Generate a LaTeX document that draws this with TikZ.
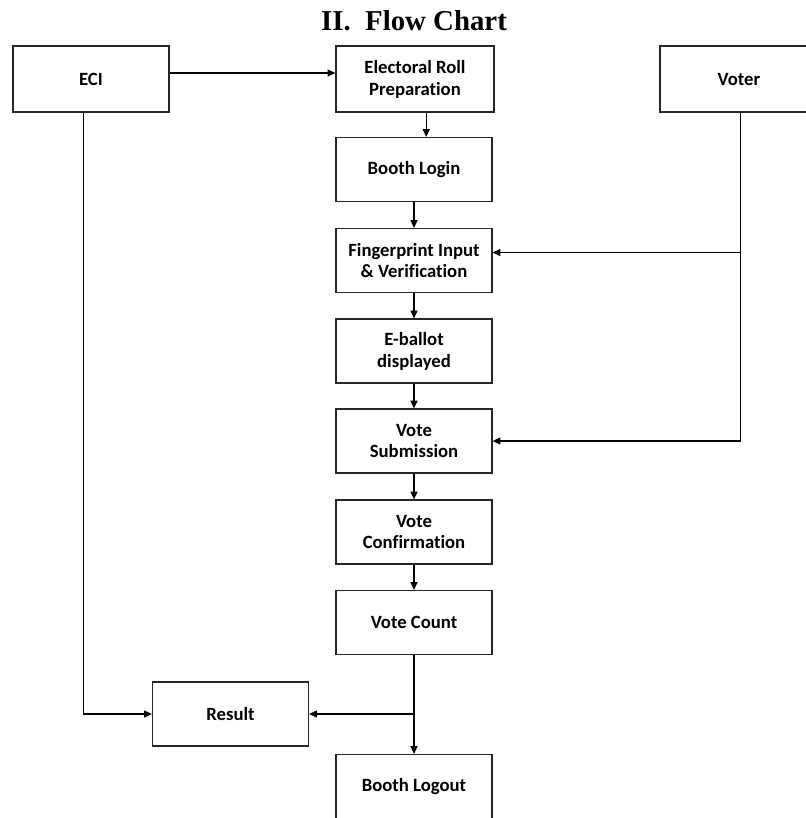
\documentclass[tikz,border=0pt]{standalone}
\usepackage{fontspec}
\usepackage{tikz}
\usetikzlibrary{
  	positioning,
  	arrows.meta,
  	calc
  }
\newfontfamily\boxfont[Ligatures=CommonOff]{Carlito}
\newfontfamily\titlefont{Liberation Serif}
\tikzstyle{block}=[draw=black!85,line width=0.9pt,minimum width=3.9cm,minimum height=1.6cm,
	align=center,inner sep=0pt,font=\boxfont\bfseries\fontsize{13.3}{15.6}\selectfont]
\tikzstyle{arr}=[-{Triangle[length=5.5pt,width=5pt]},line width=0.8pt]

\begin{document}
\begin{tikzpicture}[x=0.025cm,y=-0.025cm]
	\useasboundingbox (0,0) rectangle (805,818);
	\node[font=\titlefont\bfseries\fontsize{20.5}{23}\selectfont, anchor=base] at (414,30) (title) {II.\ \ Flow Chart};
%
	\node[block, minimum height=1.65cm] at (91,79) (ECI) {ECI};
	\node[block, minimum height=1.65cm, minimum width=3.95cm] at (415,79) (ERP) {Electoral Roll\\Preparation};
	\node[block, minimum height=1.65cm, minimum width=4.1cm] at (742,79) (VOT) {\hspace*{-0.15cm}Voter};
	\node[block] at (414,169.5) (BL) {Booth Login};
	\node[block] at (414,260.5) (FIV) {Fingerprint Input\\\& Verification};
	\node[block] at (414,351) (EB) {E-ballot\\displayed};
	\node[block] at (414,441) (VS) {Vote\\Submission};
	\node[block] at (414,532) (VC) {Vote\\Confirmation};
	\node[block] at (414,622.5) (VCnt) {Vote Count};
	\node[block] at (230.5,714) (RES) {Result};
	\node[block] at (414,786.5) (BLO) {Booth Logout};
%
	\draw [arr] ([yshift=0.15cm]ECI.east) -- ([yshift=0.15cm]ERP.west);
	\draw [arr] ([xshift=0.28cm]ERP.south) -- ([xshift=0.28cm]ERP.south |- BL.north);
	\foreach \a/\b in {BL/FIV,FIV/EB,EB/VS,VS/VC,VC/VCnt,VCnt/BLO}
		\draw [arr] (\a) -- (\b);
%
	\coordinate (vj) at ([xshift=-0.03cm]VOT.south |- FIV.east);
	\draw [arr] ([xshift=-0.03cm]VOT.south) |- (VS.east);
	\draw [arr] ([yshift=0.2cm]vj) -- ([yshift=0.2cm]FIV.east);
%
	\draw [arr] ([xshift=-0.18cm]ECI.south) |- (RES.west);
	\coordinate (cj) at (VCnt.south |- RES.east);
	\draw [arr] (cj) -- (RES.east);
\end{tikzpicture}
\end{document}
